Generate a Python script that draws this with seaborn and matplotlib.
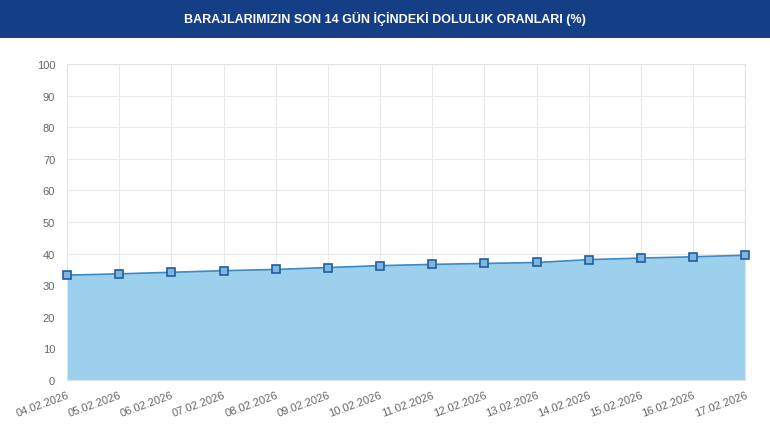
import matplotlib
matplotlib.use("Agg")
import matplotlib.pyplot as plt
import seaborn as sns
import pandas as pd

dates = ["04.02.2026", "05.02.2026", "06.02.2026", "07.02.2026", "08.02.2026",
         "09.02.2026", "10.02.2026", "11.02.2026", "12.02.2026", "13.02.2026",
         "14.02.2026", "15.02.2026", "16.02.2026", "17.02.2026"]
fill_rate = [33.2, 33.6, 34.1, 34.6, 35.0, 35.6, 36.2,
             36.6, 36.9, 37.2, 38.1, 38.6, 39.0, 39.5]
y_ticks = list(range(0, 101, 10))
title = "BARAJLARIMIZIN SON 14 GÜN İÇİNDEKİ DOLULUK ORANLARI (%)"

df = pd.DataFrame({"date": dates, "rate": fill_rate})
df["pos"] = range(len(df))

sns.set_style("white")
plt.rcParams["font.family"] = ["Liberation Sans", "DejaVu Sans"]

fig = plt.figure(figsize=(7.7, 4.31), dpi=100)
fig.patch.set_facecolor("white")

# header band
fig.patches.append(plt.Rectangle((0, 0.909), 1, 0.091, transform=fig.transFigure,
                                 facecolor="#143e86", edgecolor="none", zorder=0))
fig.text(0.5, 0.957, title, ha="center", va="center", color="white",
         fontsize=9, fontweight="bold")

ax = fig.add_axes([0.087, 0.116, 0.881, 0.733])
ax.fill_between(df["pos"], df["rate"], 0, color="#9dd0ec", zorder=1)
sns.lineplot(data=df, x="pos", y="rate", ax=ax, color="#3d8ac4", linewidth=1.2,
             marker="s", markersize=6, markerfacecolor="#7fb6e0",
             markeredgecolor="#1f5e9e", markeredgewidth=1.2, zorder=3,
             clip_on=False)

ax.set_xlim(0, len(dates) - 1)
ax.set_ylim(0, 100)
ax.set_yticks(y_ticks)
ax.set_xticks(df["pos"])
ax.set_xticklabels(dates, rotation=20, ha="right", rotation_mode="anchor")
ax.tick_params(axis="both", colors="#e3e3e3", labelcolor="#666666",
               labelsize=8, length=5, width=0.8)
ax.tick_params(axis="x", pad=2)
ax.grid(True, color="#e8e8e8", linewidth=0.8, zorder=0)
ax.set_axisbelow(True)
for s in ax.spines.values():
    s.set_color("#e3e3e3")
    s.set_linewidth(0.8)
ax.set_xlabel("")
ax.set_ylabel("")

fig.savefig("out.png", dpi=100)
